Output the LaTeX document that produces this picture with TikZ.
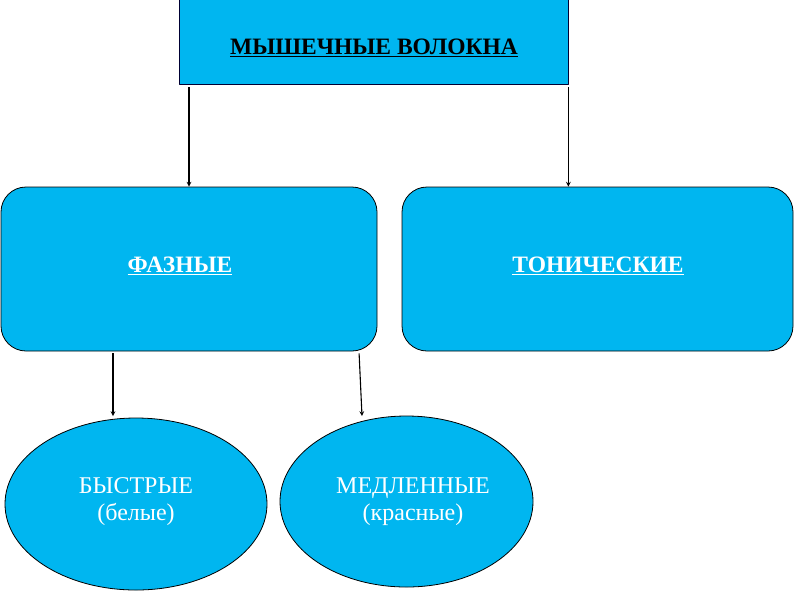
\documentclass[tikz,border=0pt]{standalone}
\usepackage{fontspec}
\setmainfont{Liberation Serif}
\definecolor{fibreblue}{RGB}{0,182,240}
\tikzset{
  boxtext/.style={font=\fontsize{23.5}{27}\selectfont\bfseries},
  topbox/.style={draw=black!80!blue, fill=fibreblue, line width=0.8pt, inner sep=0pt, minimum width=389pt, minimum height=85pt},
  typebox/.style={draw, fill=fibreblue, line width=0.8pt, rounded corners=25pt, inner sep=0pt, minimum height=164pt},
  oval/.style={draw, fill=fibreblue, ellipse, line width=0.8pt, inner sep=0pt, text=white, font=\fontsize{24}{27}\selectfont, align=center}
}
\usetikzlibrary{shapes.geometric}
\begin{document}
\begin{tikzpicture}[x=1pt, y=-1pt, >=stealth, line join=round]
	\useasboundingbox (0,0) rectangle (794,595);
	% top
	\node[topbox] (fibre) at (373.5,41.5) {};
	\node[boxtext] at (374,48) {\underline{МЫШЕЧНЫЕ ВОЛОКНА}};
	% two kinds
	\node[typebox, minimum width=376pt] (faz) at (189,269) {};
	\node[typebox, minimum width=391pt] (ton) at (597.5,269) {};
	\node[boxtext, text=white] at (180,266) {\underline{ФАЗНЫЕ}};
	\node[boxtext, text=white] at (598,266) {\underline{ТОНИЧЕСКИЕ}};
	% fast and slow
	\node[oval, minimum width=262pt, minimum height=172pt] (fast) at (136,504) {};
	\node[oval, minimum width=253pt, minimum height=171pt] (slow) at (406.5,501.5) {};
	\node[oval, draw=none, fill=none] at (136,502) {БЫСТРЫЕ\\(белые)};
	\node[oval, draw=none, fill=none] at (413,502) {МЕДЛЕННЫЕ\\(красные)};
	% arrows
	\coordinate (b1) at (113,416);
	\coordinate (m1) at (362,416);
	\begin{scope}[line width=1.1pt]
	\draw[->, shorten <=3pt] (faz.north |- fibre.south) -- (faz.north);
	\draw[->, shorten <=3pt] (fibre.south east) -- (fibre.south east |- ton.north);
	\draw[->, shorten <=2pt] (faz.south -| b1) -- (b1);
	\draw[->, shorten <=2pt] ([xshift=-3pt]faz.south -| m1) -- (m1);
	\end{scope}
\end{tikzpicture}
\end{document}
